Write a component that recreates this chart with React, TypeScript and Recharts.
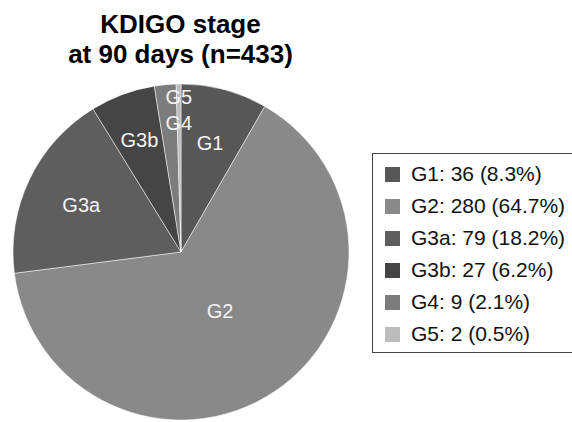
import { Legend, Pie, PieChart, Cell } from "recharts"

const stages = ["G1", "G2", "G3a", "G3b", "G4", "G5"]
const counts = [36, 280, 79, 27, 9, 2]
const colors = ["#575757", "#898989", "#5e5e5e", "#454545", "#7c7c7c", "#bcbcbc"]
const total = 433

// label placement inside each slice (fraction of radius), like the Excel best-fit
const labelRadius = [0.67, 0.42, 0.645, 0.71, 0.77, 0.92]
const labelNudgeX = [0, 0, -2, 0, 10, 0]

const FONT = "'Liberation Sans', Arial, sans-serif"
const RADIAN = Math.PI / 180

const rows = stages.map((name, i) => ({ name, value: counts[i] }))

function SliceLabel(props: any) {
  const { cx, cy, midAngle, outerRadius, index } = props
  const r = outerRadius * labelRadius[index]
  const x = cx + r * Math.cos(-midAngle * RADIAN) + labelNudgeX[index]
  const y = cy + r * Math.sin(-midAngle * RADIAN)
  return (
    <text x={x} y={y} fill="#f4f4f4" fontSize={20} fontFamily={FONT} textAnchor="middle" dominantBaseline="central">
      {stages[index]}
    </text>
  )
}

function LegendBox(props: any) {
  const payload = props.payload || []
  return (
    <div
      style={{
        border: "1.5px solid #444",
        borderRight: "none",
        paddingTop: 4,
        paddingBottom: 1.5,
        fontFamily: FONT,
        fontSize: 21,
        color: "#111",
        background: "#fff",
      }}
    >
      {payload.map((p: any, i: number) => {
        const idx = stages.indexOf(p.value)
        const pct = ((counts[idx] / total) * 100).toFixed(1)
        return (
          <div key={i} style={{ display: "flex", alignItems: "center", height: 32, marginLeft: 12 }}>
            <span style={{ width: 15, height: 15, background: colors[idx], display: "inline-block", marginRight: 11 }} />
            <span style={{ whiteSpace: "nowrap" }}>{`${p.value}: ${counts[idx]} (${pct}%)`}</span>
          </div>
        )
      })}
    </div>
  )
}

export default function App() {
  return (
    <div style={{ position: "absolute", left: 0, top: 0, width: 572, height: 422, overflow: "hidden", background: "#fff" }}>
      <div
        style={{
          position: "absolute",
          left: 0,
          top: 9,
          width: 361,
          textAlign: "center",
          fontFamily: FONT,
          fontWeight: "bold",
          fontSize: 26,
          lineHeight: "30px",
          color: "#000",
        }}
      >
        KDIGO stage
        <br />
        at 90 days (n=433)
      </div>
      <PieChart width={572} height={422} margin={{ top: 0, right: 0, bottom: 0, left: 0 }}>
        <Pie
          data={rows}
          dataKey="value"
          nameKey="name"
          cx={181}
          cy={252}
          outerRadius={168}
          startAngle={90}
          endAngle={-270}
          stroke="#ffffff"
          strokeWidth={0.5}
          label={SliceLabel}
          labelLine={false}
          isAnimationActive={false}
        >
          {rows.map((r, i) => (
            <Cell key={r.name} fill={colors[i]} />
          ))}
        </Pie>
        <Legend
          layout="vertical"
          content={LegendBox}
          wrapperStyle={{ left: 372, top: 153, width: 220, right: "auto", bottom: "auto" }}
        />
      </PieChart>
    </div>
  )
}
